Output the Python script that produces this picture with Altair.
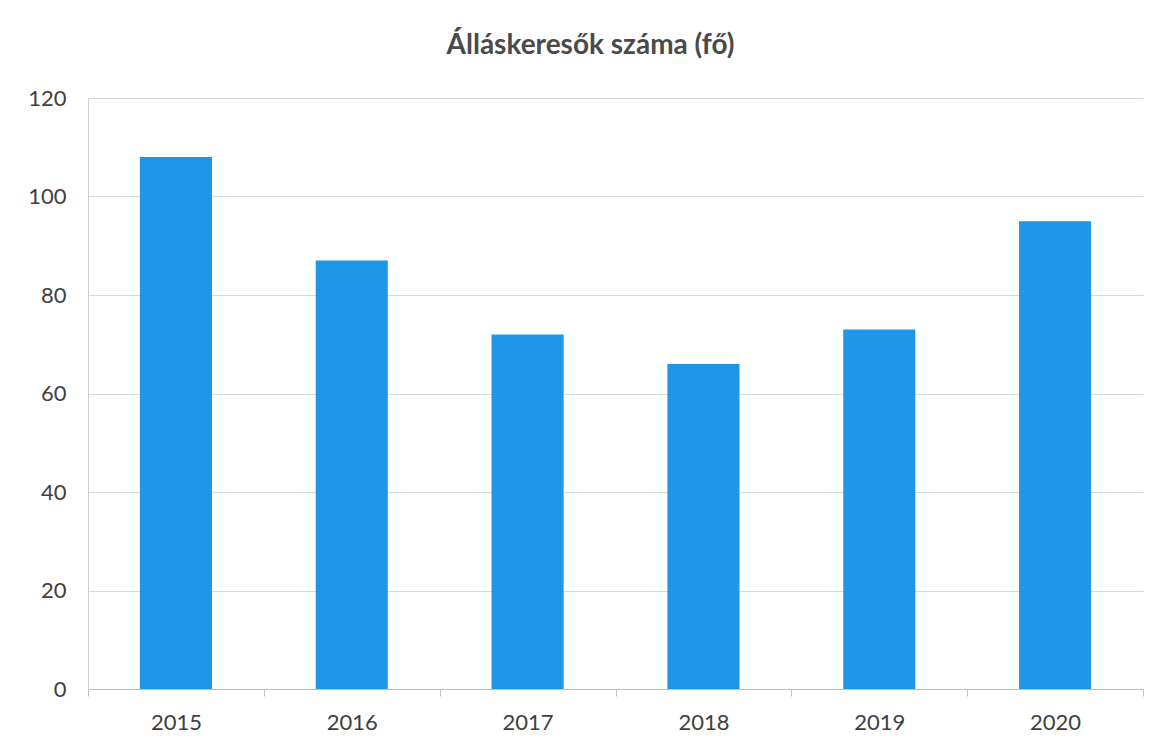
import altair as alt
import pandas as pd

years = ["2015", "2016", "2017", "2018", "2019", "2020"]
values = [108, 87, 72, 66, 73, 95]

df = pd.DataFrame({"ev": years, "fo": values})

chart = (
    alt.Chart(df)
    .mark_bar(color="#1f97e9", width=alt.RelativeBandSize(0.41))
    .encode(
        x=alt.X(
            "ev:N",
            sort=years,
            title=None,
            scale=alt.Scale(paddingInner=0, paddingOuter=0),
            axis=alt.Axis(
                labelAngle=0,
                labelFont="Lato",
                labelFontSize=22,
                labelColor="#404040",
                labelPadding=16,
                domainColor="#bfbfbf",
                tickColor="#bfbfbf",
                tickSize=7,
                tickBand="extent",
                grid=False,
            ),
        ),
        y=alt.Y(
            "fo:Q",
            title=None,
            scale=alt.Scale(domain=[0, 120]),
            axis=alt.Axis(
                values=[0, 20, 40, 60, 80, 100, 120],
                labelFont="Lato",
                labelFontSize=22,
                labelColor="#404040",
                labelPadding=22,
                ticks=False,
                domainColor="#d0d0d0",
                gridColor="#d9d9d9",
                gridWidth=1,
            ),
        ),
    )
    .properties(
        width=1055,
        height=591,
        title=alt.TitleParams(
            "Álláskeresők száma (fő)",
            font="Lato",
            fontSize=28,
            fontWeight="bold",
            color="#4a4a4a",
            anchor="middle",
            offset=27,
            dx=-25,
        ),
        autosize=alt.AutoSizeParams(type="none"),
        padding={"left": 80, "top": 90, "right": 20, "bottom": 50},
    )
    .configure_view(stroke=None)
)

chart.save("out.html", embed_options={"renderer": "svg", "actions": False})
